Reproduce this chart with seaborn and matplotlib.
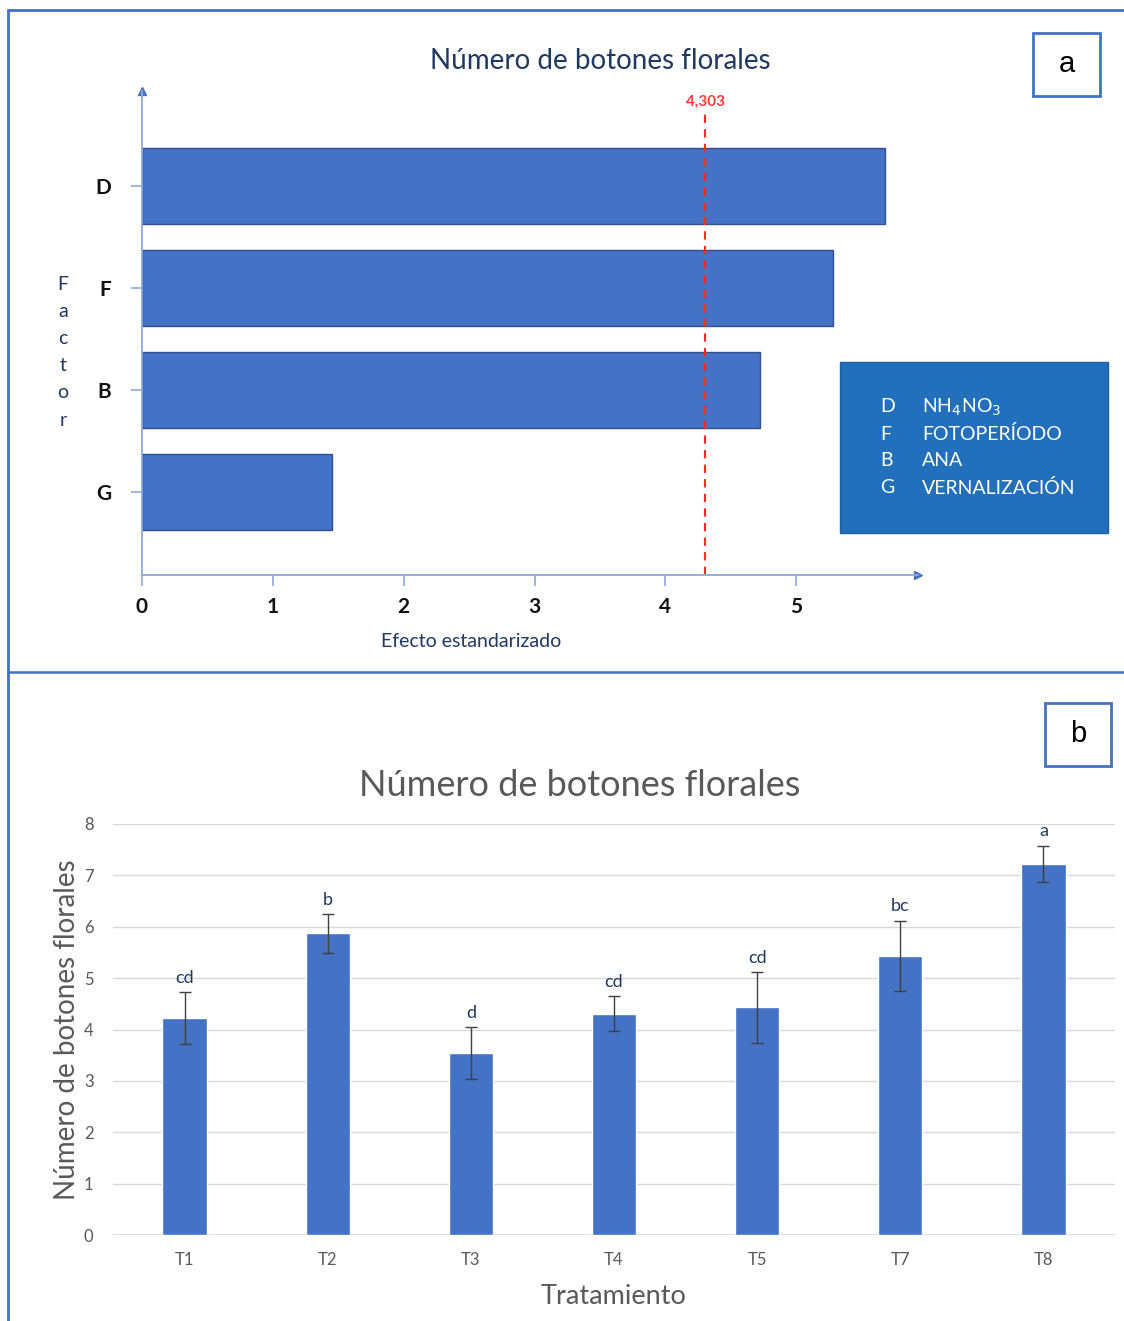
import matplotlib
matplotlib.use("Agg")
import matplotlib.pyplot as plt
from matplotlib.patches import Rectangle
from matplotlib.lines import Line2D
import seaborn as sns
import pandas as pd

# ---------------- data ----------------
factors = ["D", "F", "B", "G"]
effects = [5.68, 5.28, 4.72, 1.45]
critical_value = 4.303
critical_label = "4,303"
factor_names = ["NH$_4$NO$_3$", "FOTOPERÍODO", "ANA", "VERNALIZACIÓN"]

treatments = ["T1", "T2", "T3", "T4", "T5", "T7", "T8"]
means = [4.22, 5.87, 3.54, 4.31, 4.43, 5.43, 7.23]
errors = [0.51, 0.38, 0.51, 0.34, 0.69, 0.69, 0.35]
letters = ["cd", "b", "d", "cd", "cd", "bc", "a"]

title_a = "Número de botones florales"
title_b = "Número de botones florales"

# ---------------- style ----------------
sns.set_theme(style="white")
plt.rcParams["font.family"] = ["Lato", "DejaVu Sans"]

BAR = "#4472C4"
BAR_EDGE = "#2F528F"
AXBLUE = "#8EA9DB"
NAVY = "#1F3864"
GRAY = "#595959"
BORDER = "#4472C4"

W, H = 1124, 1321
fig = plt.figure(figsize=(W / 100, H / 100), dpi=100)


def fx(px):
    return px / W


def fy(py):
    return 1 - py / H


# ---------------- panel a ----------------
ax1 = fig.add_axes([fx(142), fy(574.6), fx(918) - fx(142), fy(91) - fy(574.6)])
df_a = pd.DataFrame({"Factor": factors, "Efecto": effects})
sns.barplot(data=df_a, y="Factor", x="Efecto", order=factors, orient="h",
            color=BAR, saturation=1, width=0.75, edgecolor=BAR_EDGE,
            linewidth=1, errorbar=None, ax=ax1)
ax1.set_xlim(0, 5.93)
ax1.set_ylim(3.81, -0.93)
for s in ["top", "right"]:
    ax1.spines[s].set_visible(False)
for s in ["left", "bottom"]:
    ax1.spines[s].set_color(AXBLUE)
    ax1.spines[s].set_linewidth(1.3)
ax1.plot(1, 0, ">", transform=ax1.transAxes, clip_on=False, color=BAR, markersize=6)
ax1.plot(0, 1, "^", transform=ax1.transAxes, clip_on=False, color=BAR, markersize=6)
ax1.set_xticks([0, 1, 2, 3, 4, 5])
ax1.set_xticklabels(["0", "1", "2", "3", "4", "5"])
ax1.tick_params(axis="both", which="both", length=8, width=1.2, color=AXBLUE,
                labelsize=15, labelcolor="#111111", direction="out", left=True, bottom=True)
ax1.tick_params(axis="x", pad=8)
ax1.tick_params(axis="y", pad=14)
for lab in ax1.get_xticklabels() + ax1.get_yticklabels():
    lab.set_fontweight("bold")
ax1.set_ylabel("")
ax1.set_xlabel("Efecto estandarizado", fontsize=14, color=NAVY, labelpad=14)
ax1.xaxis.set_label_coords(0.424, -0.12)
ax1.set_title(title_a, fontsize=20, color=NAVY, pad=16, x=0.59)
ax1.axvline(critical_value, ymin=0, ymax=0.957, color="#FF2A2A", lw=1.5,
            linestyle=(0, (4, 3)))
ax1.text(critical_value, 0.977, critical_label, transform=ax1.get_xaxis_transform(),
         ha="center", va="center", color="#FF3B3B", fontsize=11, fontweight="bold")

# vertical "Factor" label
for i, ch in enumerate("Factor"):
    fig.text(fx(63), fy(284 + i * 27.2), ch, ha="center", va="center",
             fontsize=14, color=NAVY)

# legend box
fig.add_artist(Rectangle((fx(840), fy(533)), fx(1108) - fx(840), fy(362) - fy(533),
                         transform=fig.transFigure, facecolor="#2270BC",
                         edgecolor="#1F5FA0", lw=1))
for i, (f, n) in enumerate(zip(factors, factor_names)):
    yy = fy(407 + i * 27)
    fig.text(fx(880), yy, f, ha="left", va="center", color="white", fontsize=14)
    fig.text(fx(922), yy, n, ha="left", va="center", color="white", fontsize=14)

# ---------------- panel b ----------------
ax2 = fig.add_axes([fx(113), fy(1235), fx(1115) - fx(113), fy(824) - fy(1235)])
df_b = pd.DataFrame({"Tratamiento": treatments, "Media": means})
sns.barplot(data=df_b, x="Tratamiento", y="Media", order=treatments, color=BAR,
            saturation=1, width=0.31, errorbar=None, ax=ax2, zorder=3)
ax2.errorbar(range(len(treatments)), means, yerr=errors, fmt="none",
             ecolor="#404040", elinewidth=1, capsize=4, capthick=1, zorder=4)
for i, (m, e, l) in enumerate(zip(means, errors, letters)):
    ax2.text(i, m + e + 0.12, l, ha="center", va="bottom", fontsize=13,
             color=NAVY, clip_on=False)
ax2.set_xlim(-0.5, len(treatments) - 0.5)
ax2.set_ylim(0, 8)
ax2.set_yticks(range(0, 9))
ax2.yaxis.grid(True, color="#D9D9D9", lw=1)
ax2.set_axisbelow(True)
for s in ax2.spines.values():
    s.set_visible(False)
ax2.axhline(0, color="#D9D9D9", lw=1.2, zorder=2)
ax2.tick_params(axis="both", length=0, labelsize=12, labelcolor=GRAY)
ax2.tick_params(axis="x", pad=12)
ax2.tick_params(axis="y", pad=14)
ax2.set_xlabel("Tratamiento", fontsize=19.5, color=GRAY, labelpad=12)
ax2.set_ylabel("Número de botones florales", fontsize=20, color=GRAY, labelpad=3)
ax2.set_title(title_b, fontsize=26, color=GRAY, pad=20, x=0.466)

# ---------------- frames & panel tags ----------------
fig.add_artist(Line2D([fx(7.5), fx(7.5)], [fy(9.5), 0], transform=fig.transFigure,
                      color=BORDER, lw=2))
fig.add_artist(Line2D([fx(7.5), 1], [fy(9.5), fy(9.5)], transform=fig.transFigure,
                      color=BORDER, lw=2))
fig.add_artist(Line2D([fx(7.5), 1], [fy(671.5), fy(671.5)], transform=fig.transFigure,
                      color=BORDER, lw=1.8))

for (x0, y0, x1, y1, tag) in [(1033, 33, 1100, 96, "a"), (1045, 703, 1111, 766, "b")]:
    fig.add_artist(Rectangle((fx(x0), fy(y1)), fx(x1) - fx(x0), fy(y0) - fy(y1),
                             transform=fig.transFigure, facecolor="white",
                             edgecolor=BORDER, lw=2))
    fig.text((fx(x0) + fx(x1)) / 2, (fy(y0) + fy(y1)) / 2, tag, ha="center",
             va="center", fontsize=21, color="black", family="Liberation Sans")

fig.savefig("out.png", dpi=100, facecolor="white")
